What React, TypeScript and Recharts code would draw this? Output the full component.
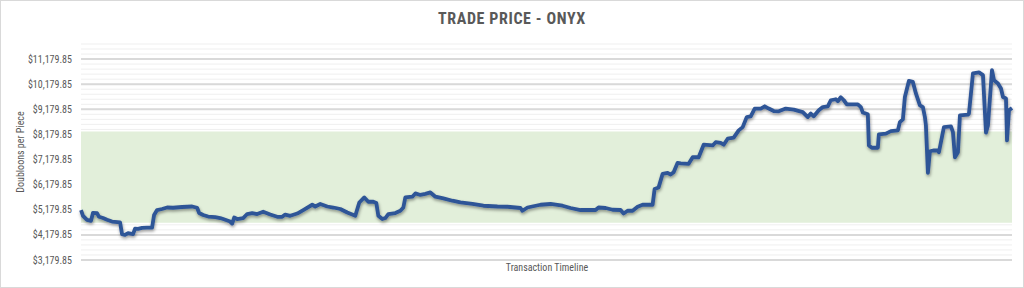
import React from 'react';
import { LineChart, Line, XAxis, YAxis, CartesianGrid, ReferenceArea } from 'recharts';

const FONT = "'Liberation Sans Narrow', 'Roboto Condensed', Lato, 'Noto Sans', sans-serif";

const chartTitle = 'TRADE PRICE - ONYX';
const yAxisTitle = 'Doubloons per Piece';
const xAxisTitle = 'Transaction Timeline';

// transaction number along the timeline
const transactionNo = [
  0, 2, 6, 10, 12, 16, 18, 22, 26, 31, 39, 41, 44, 47, 52, 54, 57, 61, 66, 71,
  73, 76, 81, 86, 92, 101, 111, 116, 118, 122, 127, 134, 139, 142, 149, 151, 153, 156, 162, 166,
  171, 176, 182, 189, 196, 201, 204, 209, 216, 222, 231, 234, 239, 246, 252, 259, 266, 274, 278, 283,
  287, 292, 295, 297, 301, 304, 307, 314, 319, 322, 324, 331, 334, 339, 344, 349, 354, 362, 371, 379,
  391, 402, 416, 426, 439, 441, 446, 459, 469, 481, 489, 499, 514, 517, 524, 531, 539, 542, 546, 551,
  556, 561, 571, 573, 577, 581, 586, 589, 592, 596, 599, 607, 611, 617, 622, 631, 634, 639, 642, 646,
  652, 657, 661, 665, 669, 673, 679, 683, 687, 692, 697, 704, 712, 721, 726, 729, 732, 737, 741, 746,
  749, 754, 756, 759, 762, 765, 776, 779, 781, 786, 787, 790, 796, 797, 804, 809, 816, 818, 821, 823,
  827, 831, 834, 838, 841, 843, 844, 846, 848, 852, 856, 857, 860, 862, 869, 871, 873, 876, 878, 886,
  887, 891, 897, 901, 904, 906, 910, 912, 916, 919, 921, 924, 925, 927, 930,
];

// trade price (doubloons per piece)
const tradePrice = [
  5170, 4940, 4780, 4740, 5060, 5050, 4900, 4850, 4780, 4710, 4680, 4210, 4180, 4250, 4210, 4430, 4420, 4460, 4470, 4470,
  4970, 5170, 5210, 5270, 5260, 5290, 5310, 5260, 5050, 4970, 4910, 4890, 4850, 4810, 4710, 4630, 4870, 4810, 4850, 5010,
  5050, 5010, 5100, 4990, 4900, 4900, 4990, 4940, 5030, 5170, 5380, 5310, 5410, 5310, 5270, 5210, 5070, 4940, 5470, 5670,
  5500, 5500, 5450, 4940, 4810, 4850, 5010, 5050, 5140, 5270, 5670, 5700, 5830, 5770, 5810, 5870, 5700, 5630, 5540, 5470,
  5410, 5340, 5310, 5300, 5250, 5140, 5270, 5380, 5410, 5340, 5250, 5170, 5170, 5270, 5250, 5180, 5170, 5030, 5140, 5140,
  5300, 5380, 5380, 6010, 6070, 6610, 6650, 6580, 6670, 7050, 7030, 7010, 7270, 7270, 7770, 7740, 7870, 7840, 7770, 8010,
  8050, 8340, 8470, 8870, 8900, 9210, 9210, 9300, 9210, 9110, 9100, 9210, 9170, 9070, 8870, 9010, 8900, 9140, 9270, 9300,
  9540, 9580, 9500, 9660, 9540, 9380, 9380, 9270, 9050, 8980, 7740, 7650, 7650, 8180, 8210, 8310, 8340, 8670, 8780, 9670,
  10310, 10270, 9810, 9340, 9270, 8870, 8540, 6650, 7510, 7540, 7540, 7470, 8070, 8470, 8500, 8270, 7270, 7470, 8940, 8970,
  9010, 10610, 10650, 10540, 8250, 8540, 10740, 10340, 10210, 10010, 9670, 9610, 7940, 9140, 9230,
];

const yTicks = [3179.85, 4179.85, 5179.85, 6179.85, 7179.85, 8179.85, 9179.85, 10179.85, 11179.85];
const yDomain = [3179.85, 11779.85];
const minorStep = 200;
const bandLow = 4660;
const bandHigh = 8300;

const minorGrid: number[] = [];
for (let v = yDomain[0]; v <= yDomain[1] + 0.001; v += minorStep) minorGrid.push(Math.round(v * 100) / 100);

const data = transactionNo.map((t, i) => ({ t, price: tradePrice[i] }));

const fmt = (v: number) =>
  '$' + v.toLocaleString('en-US', { minimumFractionDigits: 2, maximumFractionDigits: 2 });

export default function App() {
  return (
    <div
      style={{
        position: 'absolute',
        left: 0,
        top: 0,
        width: 1024,
        height: 288,
        boxSizing: 'border-box',
        border: '1px solid #d9d9d9',
        background: '#ffffff',
        fontFamily: FONT,
        overflow: 'hidden',
      }}
    >
      <LineChart width={1022} height={286} data={data} margin={{ top: 43, right: 11, bottom: 27, left: 0 }}>
        <defs>
          <filter id="lineShadow" x="-5%" y="-20%" width="110%" height="140%">
            <feDropShadow dx="0.6" dy="1.8" stdDeviation="1.4" floodColor="#000000" floodOpacity="0.4" />
          </filter>
        </defs>
        <CartesianGrid horizontalValues={minorGrid} vertical={false} stroke="#efefef" strokeWidth={1} />
        <CartesianGrid horizontalValues={yTicks} vertical={false} stroke="#d9d9d9" strokeWidth={2} />
        <ReferenceArea y1={bandLow} y2={bandHigh} fill="#e2efda" fillOpacity={1} stroke="none" />
        <XAxis type="number" dataKey="t" domain={[0, 930]} hide />
        <YAxis
          type="number"
          domain={yDomain}
          ticks={yTicks}
          interval={0}
          width={80}
          allowDataOverflow
          tickLine={false}
          axisLine={false}
          tickSize={0}
          tickMargin={9}
          tick={{ fill: '#595959', fontSize: 10, fontFamily: FONT }}
          tickFormatter={fmt}
        />
        <Line
          type="linear"
          dataKey="price"
          stroke="#2f5597"
          strokeWidth={3.8}
          strokeLinejoin="round"
          dot={false}
          activeDot={false}
          isAnimationActive={false}
          filter="url(#lineShadow)"
        />
      </LineChart>
      <div
        style={{
          position: 'absolute',
          left: 0,
          top: 10,
          width: 1022,
          textAlign: 'center',
          fontSize: 16,
          letterSpacing: '0.6px',
          lineHeight: '16px',
          fontWeight: 'bold',
          color: '#595959',
        }}
      >
        {chartTitle}
      </div>
      <div
        style={{
          position: 'absolute',
          left: 19.5 - 100,
          top: 151 - 6,
          width: 200,
          height: 12,
          lineHeight: '12px',
          textAlign: 'center',
          fontSize: 10,
          color: '#595959',
          transform: 'rotate(-90deg)',
          transformOrigin: '50% 50%',
        }}
      >
        {yAxisTitle}
      </div>
      <div
        style={{
          position: 'absolute',
          left: 546 - 100,
          top: 261,
          width: 200,
          lineHeight: '12px',
          textAlign: 'center',
          fontSize: 10,
          color: '#595959',
        }}
      >
        {xAxisTitle}
      </div>
    </div>
  );
}
